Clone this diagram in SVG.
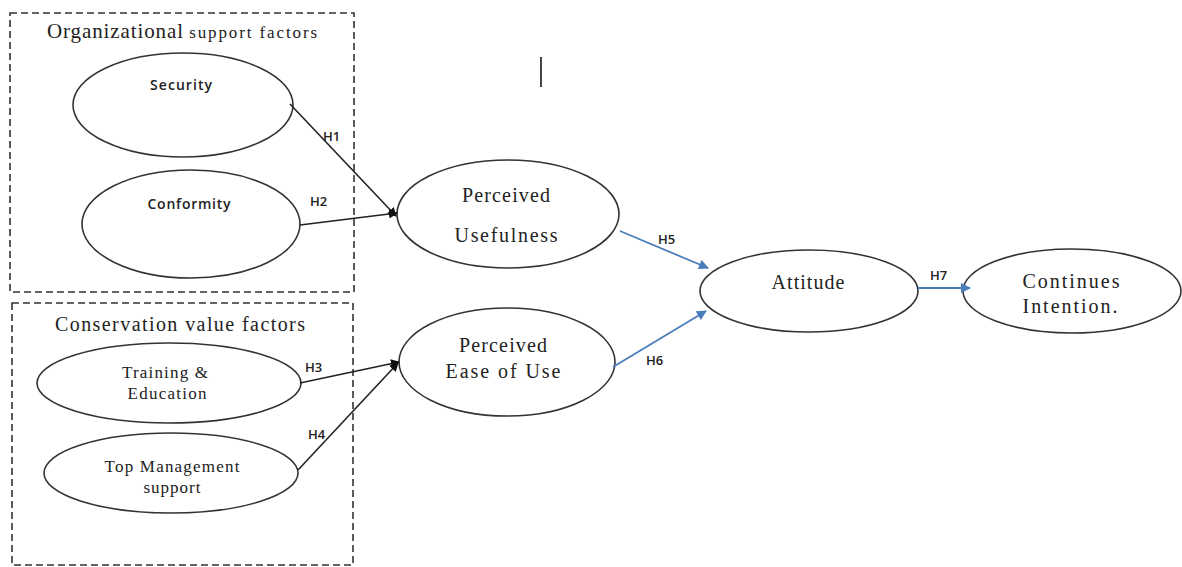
<svg xmlns="http://www.w3.org/2000/svg" width="1182" height="567" viewBox="0 0 1182 567">
<style>
.box{fill:none;stroke:#333;stroke-width:1.6;stroke-dasharray:7 4}
.el{fill:#fff;stroke:#333;stroke-width:1.6}
.title{font-family:"Liberation Serif",serif;fill:#222}
.serif{font-family:"Liberation Serif",serif;font-size:20px;fill:#222;text-anchor:middle}
.sans{font-family:"Open Sans","Liberation Sans",sans-serif;font-size:14px;fill:#222;text-anchor:middle;font-weight:600}
.smserif{font-family:"Liberation Serif",serif;font-size:17px;fill:#222;text-anchor:middle}
.lbl{font-family:"Open Sans","Liberation Sans",sans-serif;font-size:13px;fill:#222;font-weight:600}
.blk{stroke:#222;stroke-width:1.6;fill:none}
.blu{stroke:#4a7ebb;stroke-width:1.8;fill:none}
</style>
<defs>
<marker id="ab" viewBox="0 0 10 10" refX="9" refY="5" markerWidth="9" markerHeight="9" orient="auto" markerUnits="userSpaceOnUse"><path d="M0,0 L10,5 L0,10 z" fill="#111"/></marker>
<marker id="au" viewBox="0 0 10 10" refX="9" refY="5" markerWidth="12" markerHeight="10" orient="auto" markerUnits="userSpaceOnUse"><path d="M0,0 L10,5 L0,10 z" fill="#4a7ebb"/></marker>
</defs>
<rect width="1182" height="567" fill="#fff"/>
<g id="box-org">
<rect class="box" x="10" y="13" width="344" height="279"/>
<text class="title" x="47" y="38" font-size="21"><tspan textLength="136" lengthAdjust="spacing">Organizational</tspan> <tspan font-size="17" textLength="128" lengthAdjust="spacing">support factors</tspan></text>
</g>
<g id="box-cons">
<rect class="box" x="12" y="303" width="341" height="262"/>
<text class="title" x="55" y="331" font-size="20" textLength="250" lengthAdjust="spacing">Conservation value factors</text>
</g>
<g id="security">
<ellipse class="el" cx="183" cy="105" rx="110" ry="52"/>
<text class="sans" x="181" y="90" textLength="62" lengthAdjust="spacing">Security</text>
</g>
<g id="conformity">
<ellipse class="el" cx="191" cy="224" rx="109" ry="54"/>
<text class="sans" x="189" y="209" textLength="83" lengthAdjust="spacing">Conformity</text>
</g>
<g id="training">
<ellipse class="el" cx="169" cy="383" rx="132" ry="40"/>
<text class="smserif" x="165" y="378" textLength="86" lengthAdjust="spacing">Training &amp;</text>
<text class="smserif" x="167" y="399" textLength="79" lengthAdjust="spacing">Education</text>
</g>
<g id="topmgmt">
<ellipse class="el" cx="171" cy="473" rx="127" ry="40"/>
<text class="smserif" x="172" y="472" textLength="135" lengthAdjust="spacing">Top Management</text>
<text class="smserif" x="172" y="493" textLength="57" lengthAdjust="spacing">support</text>
</g>
<g id="pu">
<ellipse class="el" cx="508" cy="214" rx="111" ry="54"/>
<text class="serif" x="506" y="202" textLength="88" lengthAdjust="spacing">Perceived</text>
<text class="serif" x="506" y="242" textLength="103" lengthAdjust="spacing">Usefulness</text>
</g>
<g id="peou">
<ellipse class="el" cx="507" cy="362" rx="108" ry="54"/>
<text class="serif" x="503" y="352" textLength="88" lengthAdjust="spacing">Perceived</text>
<text class="serif" x="503" y="378" textLength="115" lengthAdjust="spacing">Ease of Use</text>
</g>
<g id="attitude">
<ellipse class="el" cx="809" cy="291" rx="109" ry="41"/>
<text class="serif" x="808" y="289" textLength="73" lengthAdjust="spacing">Attitude</text>
</g>
<g id="ci">
<ellipse class="el" cx="1072" cy="291" rx="109" ry="42"/>
<text class="serif" x="1071" y="288" textLength="97" lengthAdjust="spacing">Continues</text>
<text class="serif" x="1070" y="313" textLength="95" lengthAdjust="spacing">Intention.</text>
</g>
<g id="connectors">
<line class="blk" x1="290" y1="104" x2="396" y2="216" marker-end="url(#ab)"/>
<line class="blk" x1="300" y1="225" x2="397" y2="213" marker-end="url(#ab)"/>
<line class="blk" x1="300" y1="383" x2="399" y2="362" marker-end="url(#ab)"/>
<line class="blk" x1="298" y1="470" x2="398" y2="363" marker-end="url(#ab)"/>
<line class="blu" x1="620" y1="231" x2="708" y2="268" marker-end="url(#au)"/>
<line class="blu" x1="613" y1="367" x2="706" y2="311" marker-end="url(#au)"/>
<line class="blu" x1="918" y1="288" x2="970" y2="288" marker-end="url(#au)"/>
<text class="lbl" x="323" y="141">H1</text>
<text class="lbl" x="310" y="206">H2</text>
<text class="lbl" x="305" y="372">H3</text>
<text class="lbl" x="308" y="439">H4</text>
<text class="lbl" x="658" y="244">H5</text>
<text class="lbl" x="646" y="365">H6</text>
<text class="lbl" x="930" y="280">H7</text>
</g>
<g id="cursor">
<line x1="541" y1="57" x2="541" y2="87" stroke="#444" stroke-width="2"/>
</g>
</svg>
